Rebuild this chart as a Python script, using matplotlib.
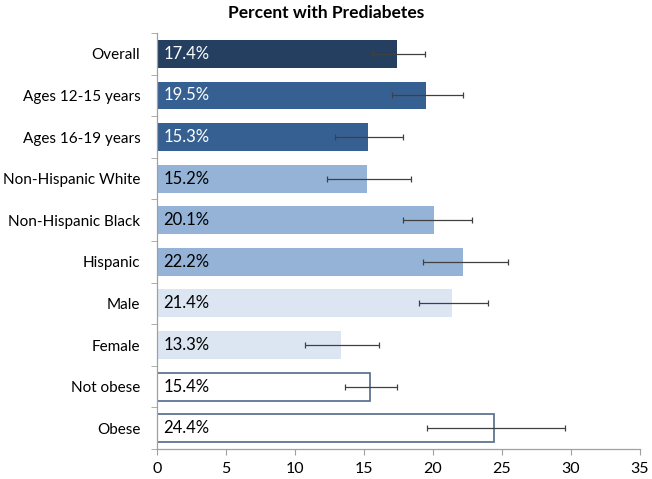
import numpy as np
import matplotlib
matplotlib.use("Agg")
import matplotlib.pyplot as plt

plt.rcParams['font.family'] = ['Lato', 'DejaVu Sans']

categories = ["Overall", "Ages 12-15 years", "Ages 16-19 years", "Non-Hispanic White",
              "Non-Hispanic Black", "Hispanic", "Male", "Female", "Not obese", "Obese"]
values = [17.4, 19.5, 15.3, 15.2, 20.1, 22.2, 21.4, 13.3, 15.4, 24.4]
ci_low = [15.6, 17.0, 12.9, 12.3, 17.8, 19.3, 19.0, 10.7, 13.6, 19.6]
ci_high = [19.4, 22.2, 17.8, 18.4, 22.8, 25.4, 24.0, 16.1, 17.4, 29.6]
labels = ["17.4%", "19.5%", "15.3%", "15.2%", "20.1%", "22.2%", "21.4%", "13.3%", "15.4%", "24.4%"]

fills = ["#243F60", "#376092", "#376092", "#95B3D7", "#95B3D7", "#95B3D7",
         "#DCE6F2", "#DCE6F2", "#FFFFFF", "#FFFFFF"]
edges = ["none"] * 8 + ["#53698A", "#53698A"]
text_colors = ["white"] * 3 + ["black"] * 7

fig = plt.figure(figsize=(6.52, 4.79), dpi=100)
ax = fig.add_axes([0.2408, 0.0626, 0.7408, 0.8684])

y = np.arange(len(categories))
vals = np.array(values)
err = [vals - np.array(ci_low), np.array(ci_high) - vals]

for i in range(len(categories)):
    ax.barh(y[i], values[i], height=0.67, color=fills[i],
            edgecolor=edges[i], linewidth=1.2 if edges[i] != "none" else 0)
ax.errorbar(vals, y, xerr=err, fmt="none", ecolor="#404040", elinewidth=0.9,
            capsize=2.5, capthick=0.9)

for i in range(len(categories)):
    ax.text(0.45, y[i], labels[i], va="center", ha="left", fontsize=12,
            color=text_colors[i])

ax.set_xlim(0, 35)
ax.set_ylim(len(categories) - 0.5, -0.5)
ax.set_xticks(range(0, 36, 5))
ax.set_yticks(y)
ax.set_yticklabels(categories)
ax.set_yticks(np.arange(-0.5, len(categories), 1), minor=True)
ax.tick_params(axis="y", which="major", length=0, pad=12, labelsize=11)
ax.tick_params(axis="y", which="minor", length=4, color="#A0A0A0", direction="out")
ax.tick_params(axis="x", length=4, color="#A0A0A0", labelsize=11.5, pad=5)

for s in ["top", "right"]:
    ax.spines[s].set_visible(False)
for s in ["left", "bottom"]:
    ax.spines[s].set_color("#A0A0A0")
    ax.spines[s].set_linewidth(0.9)

fig.suptitle("Percent with Prediabetes", fontsize=12.5, fontweight="bold", x=0.5, y=0.99)

fig.savefig("out.png", dpi=100)
